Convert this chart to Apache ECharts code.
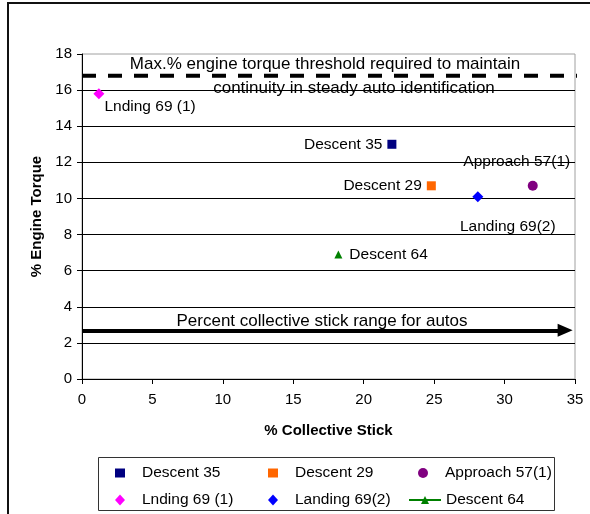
<!DOCTYPE html>
<html>
<head>
<meta charset="utf-8">
<script src="https://cdn.jsdelivr.net/npm/echarts@6/dist/echarts.min.js"></script>
<style>
  html, body { margin: 0; padding: 0; background: #ffffff; }
  #chart { width: 590px; height: 514px; }
</style>
</head>
<body>
<div id="chart"></div>
<script>
// ---- data ----
const seriesNames     = ['Descent 35', 'Descent 29', 'Approach 57(1)', 'Lnding 69 (1)', 'Landing 69(2)', 'Descent 64'];
const collectiveStick = [22.0, 24.8, 32.0, 1.2, 28.1, 18.2];   // % collective stick
const engineTorque    = [13.0, 10.7, 10.7, 15.8, 10.1, 6.9];   // % engine torque

const xTickLabels = [0, 5, 10, 15, 20, 25, 30, 35];
const yTickLabels = [0, 2, 4, 6, 8, 10, 12, 14, 16, 18];

// threshold line (dashed) and collective-range arrow
const thresholdTorque = 16.8;
const thresholdSpan   = [0, 35.8];
const autoRangeTorque = 2.7;
const autoRangeSpan   = [0, 34.3];

const thresholdText = ['Max.% engine torque threshold required to maintain',
                       'continuity in steady auto identification'];
const autoRangeText = 'Percent collective stick range for autos';

// ---- styles ----
const FONT = '"Liberation Sans", Arial, Helvetica, sans-serif';
const LABEL_SIZE = 15.5;
const markStyles = [
  { symbol: 'rect',     size: 9,  color: '#000080' },
  { symbol: 'rect',     size: 9,  color: '#FF6600' },
  { symbol: 'circle',   size: 10, color: '#800080' },
  { symbol: 'diamond',  size: 11, color: '#FF00FF' },
  { symbol: 'diamond',  size: 11, color: '#0000FF' },
  { symbol: 'triangle', size: 8,  color: '#008000' }
];
const labelStyles = [
  { position: 'left',   distance: 5, offset: [0, 0] },
  { position: 'left',   distance: 5, offset: [0, 0] },
  { position: 'top',    distance: 5, offset: [-16, -6] },
  { position: 'right',  distance: 5, offset: [-5, 13] },
  { position: 'bottom', distance: 5, offset: [30, 12] },
  { position: 'right',  distance: 7, offset: [0, 0] }
];
// legend slots: icon centre x, row centre y, icon box width
const legendSlots = [
  { cx: 120, cy: 473, w: 10 },
  { cx: 273, cy: 473, w: 10 },
  { cx: 423, cy: 473, w: 10 },
  { cx: 120, cy: 500, w: 10 },
  { cx: 273, cy: 500, w: 10 },
  { cx: 424, cy: 500, w: 32 }
];

const pointSeries = seriesNames.map((name, i) => {
  const st = markStyles[i];
  const lb = labelStyles[i];
  const isLine = name === 'Descent 64';
  return {
    name: name,
    type: isLine ? 'line' : 'scatter',
    data: [[collectiveStick[i], engineTorque[i]]],
    symbol: st.symbol,
    symbolSize: st.size,
    showSymbol: true,
    itemStyle: { color: st.color, opacity: 1 },
    lineStyle: { color: st.color, width: 1 },
    label: {
      show: true,
      formatter: name,
      position: lb.position,
      distance: lb.distance,
      offset: lb.offset,
      color: '#000',
      fontFamily: FONT,
      fontSize: LABEL_SIZE
    },
    emphasis: { disabled: true },
    z: 5
  };
});

const thresholdSeries = {
  name: 'threshold',
  type: 'line',
  data: thresholdSpan.map(x => [x, thresholdTorque]),
  symbol: 'none',
  clip: false,
  silent: true,
  lineStyle: { color: '#000', width: 4, type: [14, 12] },
  z: 3
};

const autoRangeSeries = {
  name: 'autoRange',
  type: 'line',
  data: [],
  silent: true,
  markLine: {
    silent: true,
    symbol: ['none', 'triangle'],
    symbolSize: [13, 15],
    label: { show: false },
    lineStyle: { color: '#000', width: 4, type: 'solid' },
    emphasis: { disabled: true },
    data: [[
      { coord: [autoRangeSpan[0], autoRangeTorque] },
      { coord: [autoRangeSpan[1], autoRangeTorque] }
    ]]
  },
  z: 3
};

// one legend component per entry so every icon keeps its own box size
const legends = seriesNames.map((name, i) => {
  const slot = legendSlots[i];
  const iconH = name === 'Descent 64' ? 10 : markStyles[i].size;
  return {
    data: [name],
    orient: 'horizontal',
    left: slot.cx - slot.w / 2,
    top: slot.cy - 9,
    padding: 0,
    itemWidth: slot.w,
    itemHeight: iconH,
    selectedMode: false,
    textStyle: {
      color: '#000', fontFamily: FONT, fontSize: LABEL_SIZE, lineHeight: 18,
      padding: [0, 0, 0, slot.w === 32 ? 0 : 12]
    }
  };
});

const chart = echarts.init(document.getElementById('chart'), null, { renderer: 'canvas' });
chart.setOption({
  animation: false,
  backgroundColor: '#ffffff',
  textStyle: { fontFamily: FONT },
  grid: {
    left: 82, right: 15, top: 54, bottom: 135,
    show: true, borderColor: '#a0a0a0', borderWidth: 1,
    containLabel: false
  },
  xAxis: {
    type: 'value',
    min: xTickLabels[0],
    max: xTickLabels[xTickLabels.length - 1],
    interval: xTickLabels[1] - xTickLabels[0],
    name: '% Collective Stick',
    nameLocation: 'middle',
    nameGap: 44,
    nameTextStyle: { color: '#000', fontWeight: 'bold', fontSize: 15, fontFamily: FONT },
    axisLine: { show: true, onZero: false, lineStyle: { color: '#000', width: 1 } },
    axisTick: { show: true, inside: false, length: 5, lineStyle: { color: '#000' } },
    axisLabel: { color: '#000', fontSize: 15, margin: 13, fontFamily: FONT },
    splitLine: { show: false }
  },
  yAxis: {
    type: 'value',
    min: yTickLabels[0],
    max: yTickLabels[yTickLabels.length - 1],
    interval: yTickLabels[1] - yTickLabels[0],
    name: '% Engine Torque',
    nameLocation: 'middle',
    nameGap: 38,
    nameRotate: 90,
    nameTextStyle: { color: '#000', fontWeight: 'bold', fontSize: 15, fontFamily: FONT },
    axisLine: { show: true, onZero: false, lineStyle: { color: '#000', width: 1 } },
    axisTick: { show: true, inside: false, length: 5, lineStyle: { color: '#000' } },
    axisLabel: { color: '#000', fontSize: 15, margin: 10, fontFamily: FONT },
    splitLine: { show: true, showMaxLine: false, lineStyle: { color: '#000', width: 1 } }
  },
  legend: legends,
  graphic: [
    { type: 'rect', shape: { x: 8, y: 3, width: 640, height: 600 },
      style: { fill: 'none', stroke: '#111', lineWidth: 2 }, silent: true },
    { type: 'rect', shape: { x: 98.5, y: 457.5, width: 456, height: 53 },
      style: { fill: 'none', stroke: '#333', lineWidth: 1 }, silent: true },
    { type: 'text', x: 325, y: 64, silent: true, z: 10,
      style: { text: thresholdText[0], fill: '#000', font: '17px ' + FONT, align: 'center', verticalAlign: 'middle' } },
    { type: 'text', x: 354, y: 88, silent: true, z: 10,
      style: { text: thresholdText[1], fill: '#000', font: '17px ' + FONT, align: 'center', verticalAlign: 'middle' } },
    { type: 'text', x: 322, y: 321, silent: true, z: 10,
      style: { text: autoRangeText, fill: '#000', font: '17px ' + FONT, align: 'center', verticalAlign: 'middle' } }
  ],
  series: pointSeries.concat([thresholdSeries, autoRangeSeries])
});
</script>
</body>
</html>
